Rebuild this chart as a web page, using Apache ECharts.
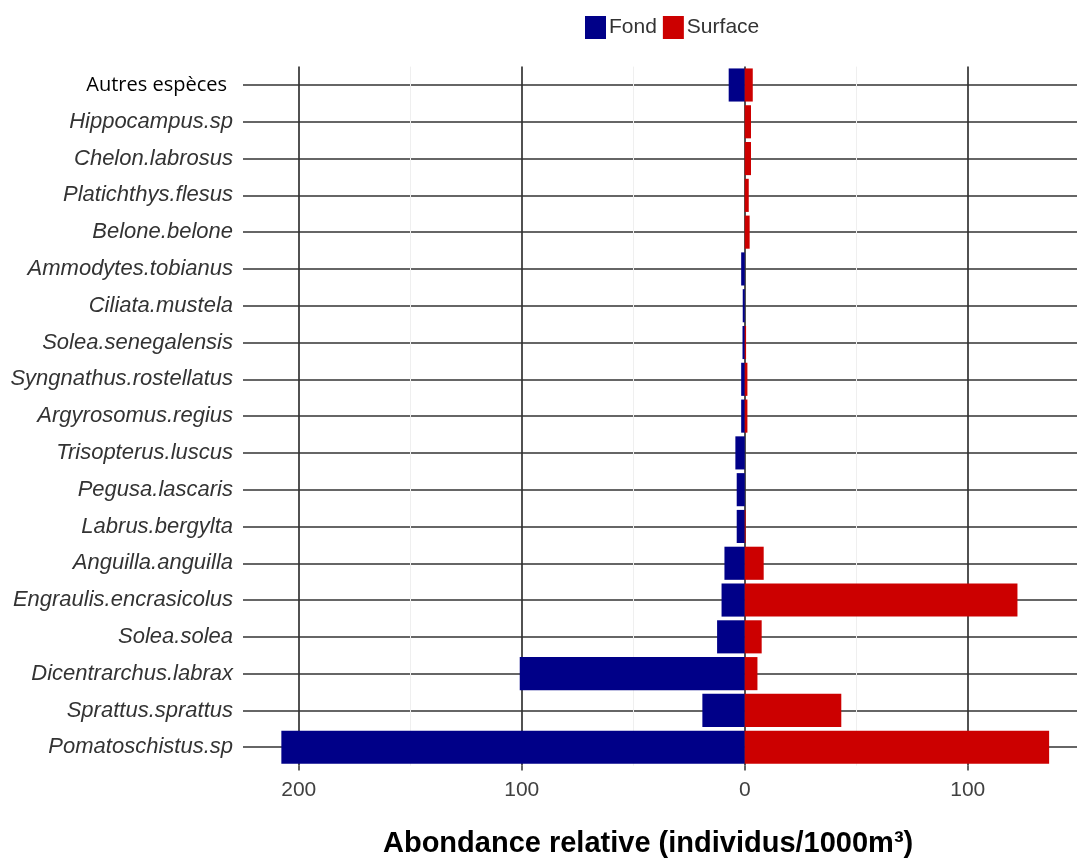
<!DOCTYPE html>
<html>
<head>
<meta charset="utf-8">
<script src="https://cdn.jsdelivr.net/npm/echarts@6/dist/echarts.min.js"></script>
<style>
html,body{margin:0;padding:0;background:#fff;}
#chart{width:1077px;height:863px;}
</style>
</head>
<body>
<div id="chart"></div>
<script>
// Categories, top to bottom
const species = ['Autres espèces','Hippocampus.sp','Chelon.labrosus','Platichthys.flesus','Belone.belone','Ammodytes.tobianus','Ciliata.mustela','Solea.senegalensis','Syngnathus.rostellatus','Argyrosomus.regius','Trisopterus.luscus','Pegusa.lascaris','Labrus.bergylta','Anguilla.anguilla','Engraulis.encrasicolus','Solea.solea','Dicentrarchus.labrax','Sprattus.sprattus','Pomatoschistus.sp'];
// Fond (bottom) abundance, drawn to the left
const fond = [7.2, 0, 0, 0, 0, 1.6, 0.9, 1.0, 1.6, 1.6, 4.2, 3.6, 3.6, 9.1, 10.4, 12.4, 100.9, 19.0, 207.8];
// Surface abundance, drawn to the right
const surface = [3.6, 2.8, 2.8, 1.8, 2.2, 0, 0, 0.6, 1.2, 1.2, 0, 0, 0.4, 8.5, 122.3, 7.6, 5.7, 43.3, 136.5];
// Axis ticks
const majorTicks = [-200, -100, 0, 100];
const minorTicks = [-150, -50, 50];
const seriesNames = ['Fond', 'Surface'];
const xTitle = 'Abondance relative (individus/1000m³)';

const chart = echarts.init(document.getElementById('chart'), null, {renderer: 'canvas'});
const option = {
  animation: false,
  backgroundColor: '#ffffff',
  title: {
    text: xTitle,
    left: 378,
    top: 824,
    textStyle: {fontFamily: 'Liberation Sans', fontSize: 29, fontWeight: 'bold', color: '#000'}
  },
  legend: {
    data: seriesNames,
    left: 580,
    top: 11,
    itemWidth: 21,
    itemHeight: 23,
    itemGap: 6,
    icon: 'rect',
    textStyle: {fontFamily: 'Liberation Sans', fontSize: 21, color: '#333', padding: [0,0,0,-2]}
  },
  grid: {left: 243, top: 66.6, width: 836, height: 699},
  xAxis: {
    type: 'value',
    min: -225,
    max: 149,
    axisLine: {show: false},
    axisTick: {show: true, customValues: majorTicks, length: 5, lineStyle: {color: '#333', width: 1.5}},
    axisLabel: {
      customValues: majorTicks,
      margin: 14,
      fontFamily: 'Liberation Sans', fontSize: 21, color: '#404040',
      formatter: v => String(Math.abs(v))
    },
    splitLine: {show: true, lineStyle: {color: '#333333', width: 1.7}}
  },
  yAxis: {
    type: 'category',
    data: species,
    inverse: true,
    axisLine: {show: false},
    axisTick: {show: false},
    axisLabel: {
      margin: 10,
      formatter: (v) => v === 'Autres espèces' ? '{n|' + v + '}' : '{i|' + v + '}',
      rich: {
        n: {fontFamily: 'Open Sans', fontSize: 20, color: '#000', padding: [0, 6, 0, 0]},
        i: {fontFamily: 'Liberation Sans', fontStyle: 'italic', fontSize: 22, color: '#333333'}
      }
    },
    splitLine: {show: true, alignWithLabel: true, lineStyle: {color: '#333333', width: 1.7}}
  },
  series: [
    {
      name: seriesNames[0],
      type: 'bar',
      data: fond.map(v => -v),
      barWidth: '90%',
      barGap: '-100%',
      itemStyle: {color: '#000088'},
      z: 3,
      markLine: {
        silent: true,
        symbol: 'none',
        z: 1,
        label: {show: false},
        lineStyle: {color: '#efefef', width: 1, type: 'solid'},
        data: minorTicks.map(v => ({xAxis: v}))
      }
    },
    {
      name: seriesNames[1],
      type: 'bar',
      data: surface,
      barWidth: '90%',
      barGap: '-100%',
      itemStyle: {color: '#cc0000'},
      z: 3
    }
  ]
};
chart.setOption(option);
</script>
</body>
</html>
